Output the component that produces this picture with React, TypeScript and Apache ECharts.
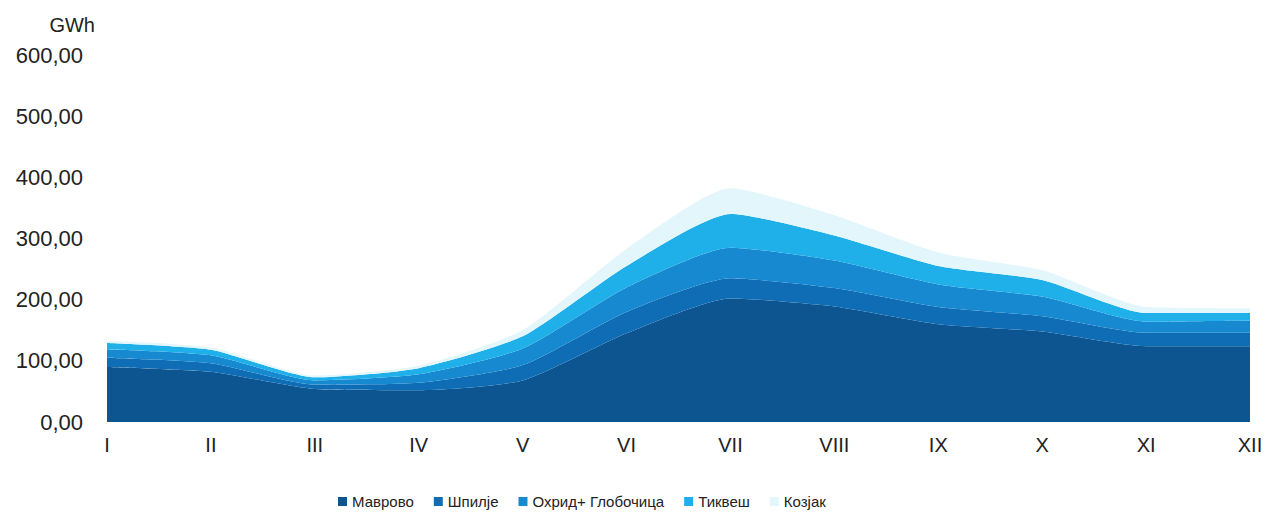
import React, { useEffect, useRef } from "react";
import * as echarts from "echarts";

const months = ["I", "II", "III", "IV", "V", "VI", "VII", "VIII", "IX", "X", "XI", "XII"];
const seriesNames = ["Маврово", "Шпилје", "Охрид+ Глобочица", "Тиквеш", "Козјак"];
const mavrovo = [90, 82, 54, 52, 68, 145, 202, 189, 160, 148, 124, 124];
const spilje = [15, 14, 7, 12, 25, 35, 33, 30, 28, 25, 22, 22];
const ohrid = [14, 13, 7, 14, 27, 40, 50, 45, 37, 32, 18, 20];
const tikves = [10, 9, 5, 10, 20, 35, 55, 41, 30, 27, 14, 12];
const kozjak = [4, 4, 3, 4, 10, 28, 42, 33, 22, 16, 10, 8];
const colors = ["#0d5590", "#0f6db5", "#1789d1", "#1fb0ea", "#e2f6fb"];

export default function App() {
  const ref = useRef<HTMLDivElement>(null);
  useEffect(() => {
    if (!ref.current) return;
    const chart = echarts.init(ref.current, null, { renderer: "svg" });
    const data = [mavrovo, spilje, ohrid, tikves, kozjak];
    chart.setOption({
      animation: false,
      grid: { left: 107, right: 27, top: 55, bottom: 93, containLabel: false },
      legend: {
        left: 333,
        top: 489,
        itemWidth: 9,
        itemHeight: 9,
        itemGap: 20,
        icon: "rect",
        textStyle: { fontFamily: "Liberation Sans, Arial, sans-serif", fontSize: 15, color: "#222" },
        data: seriesNames,
      },
      xAxis: {
        type: "category",
        data: months,
        boundaryGap: false,
        axisLine: { show: false },
        axisTick: { show: false },
        axisLabel: {
          margin: 13,
          fontFamily: "Liberation Sans, Arial, sans-serif",
          fontSize: 20,
          color: "#222",
        },
      },
      yAxis: {
        type: "value",
        min: 0,
        max: 600,
        interval: 100,
        name: "GWh",
        nameLocation: "end",
        nameGap: 20,
        nameTextStyle: {
          fontFamily: "Liberation Sans, Arial, sans-serif",
          fontSize: 20,
          color: "#222",
          align: "right",
          padding: [0, 12, 0, 0],
        },
        splitLine: { show: false },
        axisLine: { show: false },
        axisTick: { show: false },
        axisLabel: {
          margin: 24,
          fontFamily: "Liberation Sans, Arial, sans-serif",
          fontSize: 22,
          color: "#222",
          formatter: (v: number) => v.toFixed(2).replace(".", ","),
        },
      },
      series: seriesNames.map((name, i) => ({
        name,
        type: "line",
        stack: "total",
        data: data[i],
        smooth: 0.2,
        symbol: "none",
        lineStyle: { width: 0 },
        areaStyle: { color: colors[i], opacity: 1 },
        itemStyle: { color: colors[i] },
      })),
    });
    return () => chart.dispose();
  }, []);
  return (
    <div
      ref={ref}
      style={{ position: "fixed", left: 0, top: 0, width: 1277, height: 515, background: "#fff" }}
    />
  );
}
